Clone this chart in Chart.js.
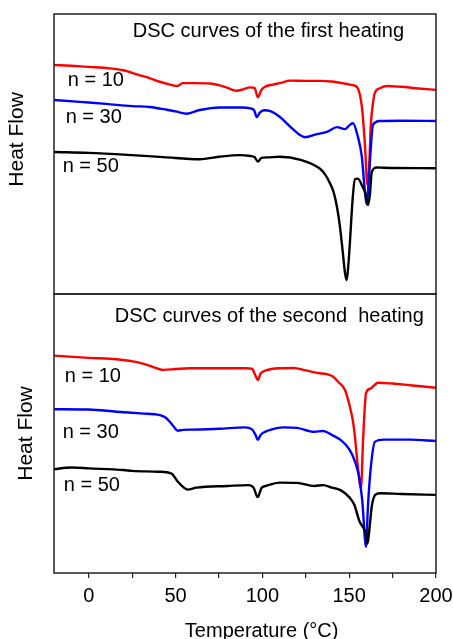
<!DOCTYPE html>
<html>
<head>
<meta charset="utf-8">
<script src="https://cdn.jsdelivr.net/npm/chart.js@4.4.0/dist/chart.umd.min.js"></script>
<style>
  body { margin: 0; background: #fff; }
  #wrap { position: relative; width: 453px; height: 639px; }
  canvas { position: absolute; left: 0; }
  #top { top: 0; }
  #bottom { top: 290px; }
</style>
</head>
<body>
<div id="wrap">
  <canvas id="top" width="453" height="300"></canvas>
  <canvas id="bottom" width="453" height="349"></canvas>
</div>
<script>
// temperature range and ticks
var tMin = -20;
var tMax = 200;
var tempTicks = [0, 25, 50, 75, 100, 125, 150, 175, 200];

// first heating (temperature, heat flow in arbitrary units)
var first10T = [-20, -10, 0, 12, 20, 29, 35, 41, 47, 51, 54, 60, 70, 75, 80, 85, 89, 93, 95.5, 97.4, 99.5, 101.5, 106, 110, 116, 125, 133, 140, 148, 152, 154.4, 157.3, 159, 160.5, 161.5, 162.4, 163.7, 164.8, 167.7, 172, 180, 190, 200];
var first10 = [81.8, 81.5, 81.1, 80.6, 79.9, 78.2, 77.1, 75.8, 74.8, 74.3, 75.3, 75.3, 75.2, 74.6, 73.6, 72.6, 73.1, 73.8, 73.6, 70.3, 72.9, 74, 74.8, 75.3, 76.2, 76.1, 76.1, 75.9, 75.1, 74.6, 74, 66.9, 54, 39, 45, 59.8, 68.2, 71.8, 73.5, 74.3, 74.0, 73.4, 72.9];

var first30T = [-20, -5, 10, 25, 35, 45, 50, 56.5, 64, 75.5, 88, 93, 95.3, 96.8, 98.5, 101, 105, 110, 116, 121.6, 124.5, 131.4, 137.2, 143, 147.6, 150.4, 152.2, 155, 157.3, 159, 160.1, 161, 162, 163.7, 167.7, 180, 200];
var first30 = [69.3, 68.6, 67.9, 67.1, 66.8, 65.8, 65.2, 64.4, 65.7, 66.6, 66.6, 66.3, 65.6, 63.2, 64.8, 65.6, 65.2, 63.3, 59.8, 56.8, 56, 57.1, 57.9, 59.6, 58.9, 60.4, 61, 56.2, 49, 37, 32, 38, 47.9, 60.4, 61.8, 61.9, 61.8];

var first50T = [-20, 0, 25, 43, 64, 75, 87, 93, 95.5, 97.4, 99.5, 103, 110, 122, 133, 136, 139, 141, 143, 144.7, 146.3, 147.6, 148.6, 149.6, 150.4, 152, 153.3, 155, 157.7, 159.3, 160.2, 161, 162, 163, 165.8, 170, 200];
var first50 = [50.7, 50.4, 49.6, 48.9, 48.1, 49, 49.6, 49.3, 48.9, 47.3, 48.6, 48.8, 49, 47.9, 44.8, 42.8, 39.5, 36.5, 31, 24, 15, 7.5, 5, 11, 18.2, 34, 41, 41.2, 38.3, 36, 33, 31.8, 36, 43.5, 45.2, 45.1, 44.9];

// second heating
var second10T = [-20, 0, 16, 29, 35, 40, 43, 50, 58, 70, 90, 94, 96, 97.4, 99, 102, 110, 118, 125, 133, 137, 140.6, 144, 147.6, 150.4, 152, 153.3, 155, 156.8, 158, 159.7, 162, 166.6, 175, 185, 200];
var second10 = [77.9, 77.1, 76.6, 75.4, 74.3, 73.2, 72.8, 73.1, 73.4, 73.4, 73.4, 73.2, 70.8, 69.2, 71.5, 72.6, 73.4, 73.5, 72.6, 71.6, 71.3, 70.4, 68.3, 65.6, 59.6, 55, 48.9, 38.1, 30.4, 47.7, 64.5, 66, 68.2, 67.9, 67.3, 66.4];

var second30T = [-20, 0, 16, 30, 41, 44, 46.7, 49, 51.3, 54.3, 60, 75, 90, 94, 96, 97.4, 99, 101.5, 105, 112, 120, 130, 135, 140, 145, 150, 153, 155.5, 157.5, 159.7, 160.8, 162.5, 164.8, 170, 185, 200];
var second30 = [58.7, 58.6, 57.8, 57.2, 56.6, 55.8, 54.2, 52.4, 51, 51.3, 51.4, 51.7, 52.2, 51.5, 49.6, 47.7, 49.5, 50.6, 51.4, 52.2, 52, 50.6, 50.9, 49.5, 47.7, 44.4, 40.5, 35.1, 26.2, 9.4, 23.8, 38.1, 47, 47.8, 47.8, 47.3];

var second50T = [-20, -10, 0, 20, 25, 40, 45, 48, 51, 55, 57, 62, 80, 92, 95, 97.3, 99.5, 102, 110, 120, 130, 135, 140, 145, 150, 153, 156, 157.8, 159.5, 160.6, 161.8, 163, 165, 168, 180, 200];
var second50 = [37.2, 37.8, 37.5, 36.9, 36.6, 36.3, 36.1, 35.5, 33, 30.5, 29.9, 30.6, 31.2, 31.5, 30.5, 27.2, 30.5, 31.2, 32.4, 32.3, 31.2, 31.5, 30.6, 29.7, 27.2, 24.4, 18.4, 16.6, 14.3, 10.6, 16.6, 23.8, 28, 28.6, 28.3, 28];

var seriesNames = ['n = 10', 'n = 30', 'n = 50'];
var seriesColors = ['#ff0000', '#0000ff', '#000000'];

var fontFamily = '"Liberation Sans", Arial, Helvetica, sans-serif';

function pts(xs, ys) {
  return xs.map(function (t, i) { return { x: t, y: ys[i] }; });
}

function makeSets(list) {
  // dataset 0 is drawn on top in Chart.js, so black first
  return [2, 1, 0].map(function (k) {
    return {
      label: seriesNames[k],
      data: list[k],
      borderColor: seriesColors[k],
      borderWidth: 2.4,
      pointRadius: 0,
      fill: false,
      cubicInterpolationMode: 'monotone'
    };
  });
}

// draws panel labels and the box around the plot
var panelText = {
  id: 'panelText',
  afterDraw: function (chart, args, opts) {
    var ctx = chart.ctx;
    var x = chart.scales.x, y = chart.scales.y;
    var a = chart.chartArea;
    ctx.save();
    ctx.fillStyle = '#000';
    ctx.textBaseline = 'middle';
    ctx.textAlign = 'left';
    opts.items.forEach(function (it) {
      ctx.font = it.size + 'px ' + fontFamily;
      ctx.fillText(it.text, x.getPixelForValue(it.x), y.getPixelForValue(it.y));
    });
    ctx.strokeStyle = '#222';
    ctx.lineWidth = 1.5;
    ctx.strokeRect(a.left, a.top, a.right - a.left, a.bottom - a.top);
    ctx.restore();
  }
};

var topChart = new Chart(document.getElementById('top'), {
  type: 'line',
  data: { datasets: makeSets([pts(first10T, first10), pts(first30T, first30), pts(first50T, first50)]) },
  plugins: [panelText],
  options: {
    responsive: false,
    animation: false,
    layout: { padding: { top: 14, right: 17, bottom: 6, left: 0 } },
    plugins: {
      legend: { display: false },
      tooltip: { enabled: false },
      panelText: {
        items: [
          { text: 'DSC curves of the first heating', x: 25.4, y: 93.9, size: 20 },
          { text: seriesNames[0], x: -12.1, y: 76.1, size: 20 },
          { text: seriesNames[1], x: -13.3, y: 62.9, size: 20 },
          { text: seriesNames[2], x: -15, y: 45.4, size: 20 }
        ]
      }
    },
    scales: {
      x: { type: 'linear', min: tMin, max: tMax, display: false },
      y: {
        min: 0, max: 100,
        ticks: { display: false },
        grid: { display: false },
        border: { display: false },
        title: { display: true, text: '     Heat Flow', color: '#000', font: { family: fontFamily, size: 21 }, padding: { top: 5, bottom: 0 } },
        afterFit: function (axis) { axis.width = 54; }
      }
    }
  }
});

var bottomChart = new Chart(document.getElementById('bottom'), {
  type: 'line',
  data: { datasets: makeSets([pts(second10T, second10), pts(second30T, second30), pts(second50T, second50)]) },
  plugins: [panelText],
  options: {
    responsive: false,
    animation: false,
    layout: { padding: { top: 4, right: 17, bottom: 0, left: 0 } },
    plugins: {
      legend: { display: false },
      tooltip: { enabled: false },
      panelText: {
        items: [
          { text: 'DSC curves of the second  heating', x: 15, y: 91.8, size: 20 },
          { text: seriesNames[0], x: -13.8, y: 70.3, size: 20 },
          { text: seriesNames[1], x: -15, y: 50.2, size: 20 },
          { text: seriesNames[2], x: -14.4, y: 31.2, size: 20 }
        ]
      }
    },
    scales: {
      x: {
        type: 'linear', min: tMin, max: tMax,
        afterBuildTicks: function (axis) {
          axis.ticks = tempTicks.map(function (v) { return { value: v }; });
        },
        ticks: {
          color: '#000',
          padding: 6,
          maxRotation: 0,
          autoSkip: false,
          font: { family: fontFamily, size: 20 },
          callback: function (v) { return v % 50 === 0 ? v : ''; }
        },
        grid: { display: true, drawOnChartArea: false, drawTicks: true, tickLength: 5, color: '#222', lineWidth: 1.2 },
        border: { display: false },
        title: { display: true, text: '      Temperature (\u00B0C)', color: '#000', font: { family: fontFamily, size: 20, lineHeight: 0.8 }, padding: { top: 0, bottom: 0 } },
        afterFit: function (axis) {
          axis.height = 66;
          axis.paddingLeft = 0;
          axis.paddingRight = 0;
        }
      },
      y: {
        min: 0, max: 100,
        ticks: { display: false },
        grid: { display: false },
        border: { display: false },
        title: { display: true, text: 'Heat Flow', color: '#000', font: { family: fontFamily, size: 21 }, padding: { top: 14, bottom: 0 } },
        afterFit: function (axis) { axis.width = 54; }
      }
    }
  }
});
</script>
</body>
</html>
